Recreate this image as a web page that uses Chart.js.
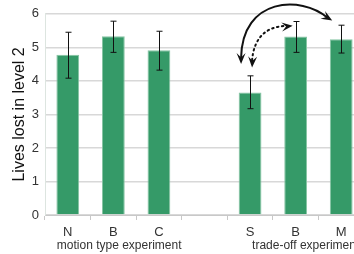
<!DOCTYPE html>
<html>
<head>
<meta charset="utf-8">
<script src="https://cdn.jsdelivr.net/npm/chart.js@4"></script>
<style>
  html, body { margin: 0; padding: 0; background: #fff; overflow: hidden; }
  #wrap { width: 354px; height: 254px; overflow: hidden; }
</style>
</head>
<body>
<div id="wrap"><canvas id="chart" width="364" height="254"></canvas></div>
<script>
var categories = ['N', 'B', 'C', '', 'S', 'B', 'M'];
var lives = [4.78, 5.33, 4.91, null, 3.65, 5.32, 5.24];
var errLow = [4.08, 4.85, 4.32, null, 3.17, 4.85, 4.83];
var errHigh = [5.45, 5.78, 5.48, null, 4.15, 5.77, 5.66];
var yTicks = [0, 1, 2, 3, 4, 5, 6];
var groupLabels = ['motion type experiment', 'trade-off experiment'];
var groupStart = [0, 4];

var fontFamily = "Arial, 'Liberation Sans', sans-serif";

function arrowHead(ctx, tipX, tipY, fromX, fromY, len, wid) {
  var ang = Math.atan2(tipY - fromY, tipX - fromX);
  ctx.save();
  ctx.translate(tipX, tipY);
  ctx.rotate(ang);
  ctx.setLineDash([]);
  ctx.beginPath();
  ctx.moveTo(0, 0);
  ctx.lineTo(-len, -wid / 2);
  ctx.lineTo(-len * 0.6, 0);
  ctx.lineTo(-len, wid / 2);
  ctx.closePath();
  ctx.fill();
  ctx.restore();
}

var extras = {
  id: 'extras',
  afterDatasetsDraw: function (chart) {
    var ctx = chart.ctx;
    var xs = chart.scales.x;
    var ys = chart.scales.y;

    // error bars
    ctx.save();
    ctx.strokeStyle = '#111';
    ctx.lineWidth = 1;
    for (var i = 0; i < categories.length; i++) {
      if (errLow[i] == null) continue;
      var x = Math.round(xs.getPixelForValue(i)) + 0.5;
      var y1 = ys.getPixelForValue(errLow[i]);
      var y2 = ys.getPixelForValue(errHigh[i]);
      ctx.beginPath();
      ctx.moveTo(x, y1);
      ctx.lineTo(x, y2);
      ctx.moveTo(x - 3, y1);
      ctx.lineTo(x + 3, y1);
      ctx.moveTo(x - 3, y2);
      ctx.lineTo(x + 3, y2);
      ctx.stroke();
    }
    ctx.restore();

    // arrows between the trade-off bars
    var xS = xs.getPixelForValue(4);
    var xB = xs.getPixelForValue(5);
    var xM = xs.getPixelForValue(6);
    ctx.save();
    ctx.strokeStyle = '#111';
    ctx.fillStyle = '#111';
    ctx.lineWidth = 2;
    ctx.lineCap = 'round';

    var s0 = [xS - 9, ys.getPixelForValue(4.5)];
    var s1 = [xS - 8, ys.getPixelForValue(6.5)];
    var s2 = [xM - 40, ys.getPixelForValue(6.55)];
    var s3 = [xM - 9, ys.getPixelForValue(5.8)];
    ctx.beginPath();
    ctx.moveTo(s0[0], s0[1] - 6);
    ctx.bezierCurveTo(s1[0], s1[1], s2[0], s2[1], s3[0] - 5, s3[1] - 3);
    ctx.stroke();
    arrowHead(ctx, s0[0], s0[1], s0[0], s0[1] - 10, 11, 9);
    arrowHead(ctx, s3[0], s3[1], s3[0] - 10, s3[1] - 6, 11, 9);

    var d0 = [xS + 2, ys.getPixelForValue(4.4)];
    var d1 = [xS + 4, ys.getPixelForValue(5.35)];
    var d2 = [xS + 18, ys.getPixelForValue(5.62)];
    var d3 = [xB - 3, ys.getPixelForValue(5.64)];
    ctx.setLineDash([1.5, 3.5]);
    ctx.beginPath();
    ctx.moveTo(d0[0], d0[1] - 7);
    ctx.bezierCurveTo(d1[0], d1[1], d2[0], d2[1], d3[0] - 7, d3[1]);
    ctx.stroke();
    arrowHead(ctx, d0[0], d0[1], d0[0] + 0.5, d0[1] - 10, 11, 9);
    arrowHead(ctx, d3[0], d3[1], d3[0] - 10, d3[1] + 1, 11, 9);
    ctx.restore();

    // experiment group labels
    ctx.save();
    ctx.font = '12px ' + fontFamily;
    ctx.fillStyle = '#333';
    ctx.textAlign = 'left';
    ctx.textBaseline = 'middle';
    ctx.fillText(groupLabels[0], xs.getPixelForValue(groupStart[0]) - 11, 246);
    ctx.fillText(groupLabels[1], xs.getPixelForValue(groupStart[1]) + 2, 246);
    ctx.restore();
  }
};

new Chart(document.getElementById('chart'), {
  type: 'bar',
  data: {
    labels: categories,
    datasets: [{
      data: lives,
      backgroundColor: '#359a68',
      borderColor: '#86c4a3',
      borderWidth: 1,
      barPercentage: 0.5,
      categoryPercentage: 1
    }]
  },
  options: {
    responsive: false,
    animation: false,
    devicePixelRatio: 1,
    layout: { padding: { top: 13, right: 0, bottom: 0, left: 0 } },
    plugins: { legend: { display: false }, tooltip: { enabled: false } },
    scales: {
      x: {
        grid: { drawOnChartArea: false, color: '#c8c8c8', tickLength: 5, offset: true },
        border: { color: '#c8c8c8' },
        ticks: { color: '#333', font: { family: fontFamily, size: 13 }, padding: 5, maxRotation: 0, autoSkip: false },
        afterFit: function (scale) { scale.height = 39; }
      },
      y: {
        min: 0,
        max: 6,
        afterBuildTicks: function (scale) {
          scale.ticks = yTicks.map(function (v) { return { value: v }; });
        },
        grid: { color: '#d8d8d8', lineWidth: 1.5, drawTicks: false },
        border: { color: '#dde5e0' },
        ticks: { color: '#333', font: { family: fontFamily, size: 13 }, padding: 6 },
        title: { display: true, text: 'Lives lost in level 2', color: '#111', font: { family: fontFamily, size: 16 }, padding: { top: 10, bottom: 0 } },
        afterFit: function (scale) { scale.width = 45; }
      }
    }
  },
  plugins: [extras]
});
</script>
</body>
</html>
